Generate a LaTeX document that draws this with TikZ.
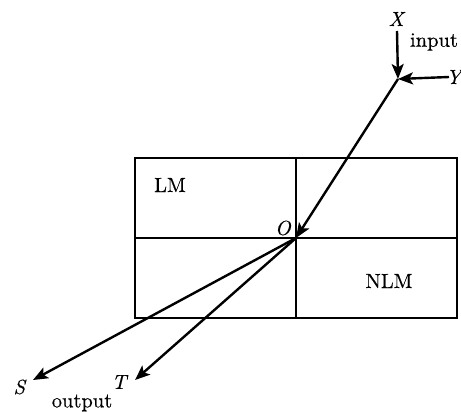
\documentclass[tikz,border=0pt]{standalone}
\usepackage{fontspec}
\setmainfont{lmroman10-regular.otf}[ItalicFont=lmroman10-italic.otf,BoldFont=lmroman10-bold.otf]
\usetikzlibrary{arrows.meta}
\begin{document}
\begin{tikzpicture}[x=1pt,y=-1pt,
  line/.style={line width=2.3pt},
  arr/.style={line width=2.4pt,-{Stealth[length=15pt,width=12pt,inset=3.5pt]}},
  lab/.style={font=\fontsize{20.5}{23}\selectfont\addfontfeatures{FakeBold=0.3}, inner sep=0pt}]
\useasboundingbox (0,0) rectangle (461,412);
% box
\coordinate (tl) at (135,158);
\coordinate (br) at (457,318);
\coordinate (vt) at (296,158);
\coordinate (vb) at (296,318);
\coordinate (hl) at (135,238);
\coordinate (hr) at (457,238);
\draw[line] (tl) rectangle (br);
\draw[line] (vt) -- (vb);
\draw[line] (hl) -- (hr);
% points
\coordinate (O) at (296,238);
\coordinate (P) at (398,79);
\coordinate (xs) at (397,31);
\coordinate (ys) at (449,77);
\coordinate (Stip) at (33,380);
\coordinate (Ttip) at (135,380);
% connectors
\draw[arr] (xs) -- (P);
\draw[arr] (ys) -- (P);
\draw[arr] (P) -- (O);
\draw[arr] (O) -- (Stip);
\draw[arr] (O) -- (Ttip);
% labels
\node[lab] (X) at (397,19) {\textit{X}};
\node[lab] (Y) at (455,77) {\textit{Y}};
\node[lab] (in) at (434,42) {input};
\node[lab] (Olab) at (283,228) {\textit{O}};
\node[lab] (S) at (20,387) {\textit{S}};
\node[lab] (T) at (120,382) {\textit{T}};
\node[lab] (out) at (82,403) {output};
\node[lab] (LM) at (170,185) {LM};
\node[lab] (NLM) at (389,281) {NLM};
\end{tikzpicture}
\end{document}
